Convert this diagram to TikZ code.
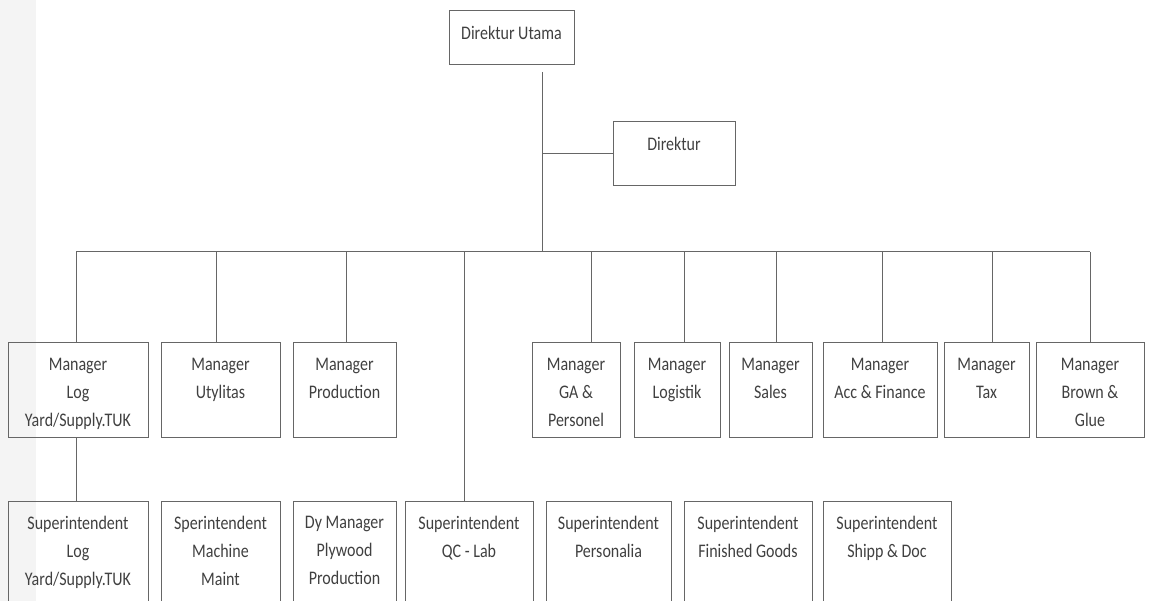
\documentclass[tikz,border=0pt]{standalone}
\usepackage{fontspec}
\setmainfont{Carlito}
\newfontfamily\chartfont[FakeStretch=0.8333]{Carlito}
\usetikzlibrary{calc,fit}

\definecolor{ink}{HTML}{404040}
\definecolor{rulegray}{HTML}{666666}
\definecolor{band}{HTML}{F4F4F4}

\tikzset{
  orgbox/.style={draw=rulegray, line width=1pt, rectangle, inner sep=0pt},
  orgtext/.style={anchor=north, align=center, inner sep=0pt, text=ink,
    font=\chartfont\fontsize{19.2}{28}\selectfont, execute at begin node=\vphantom{Hd}},
  link/.style={draw=rulegray, line width=1pt},
}

% one unit of the chart: name, top-left corner, bottom-right corner, caption
\newcommand\orgunit[6]{%
  \node[orgbox, fit={(#2,#3) (#4,#5)}] (#1) {};
  \node[orgtext] (#1-t) at ($(#1.north)+(0,15.5)$) {#6};
}

\begin{document}
\begin{tikzpicture}[x=1pt, y=-1pt]
  \useasboundingbox (0,0) rectangle (1149,601);
  \clip (0,0) rectangle (1149,601);
  \fill[band] (0,0) rectangle (36,601);

  % board
  \orgunit{du}{449}{11}{574}{65}{Direktur Utama}
  \orgunit{dir}{613}{122}{735}{186}{Direktur}

  % managers
  \orgunit{mLog}{8}{343}{148}{438}{Manager\\Log\\Yard/Supply.TUK}
  \orgunit{mUty}{161}{343}{280}{438}{Manager\\Utylitas}
  \orgunit{mProd}{293}{343}{396}{438}{Manager\\Production}
  \orgunit{mGA}{532}{343}{620}{438}{Manager\\GA \&\\Personel}
  \orgunit{mLogi}{634}{343}{720}{438}{Manager\\Logistik}
  \orgunit{mSales}{729}{343}{812}{438}{Manager\\Sales}
  \orgunit{mAcc}{823}{343}{937}{438}{Manager\\Acc \& Finance}
  \orgunit{mTax}{944}{343}{1029}{438}{Manager\\Tax}
  \orgunit{mBrown}{1036}{343}{1144}{438}{Manager\\Brown \&\\Glue}

  % superintendents
  \orgunit{sLog}{8}{501}{148}{630}{Superintendent\\Log\\Yard/Supply.TUK}
  \orgunit{sMach}{161}{501}{280}{630}{Sperintendent\\Machine\\Maint}
  \orgunit{sPly}{293}{501}{396}{630}{Dy Manager\\Plywood\\Production}
  \orgunit{sQC}{405}{501}{533}{630}{Superintendent\\QC - Lab}
  \orgunit{sPers}{546}{501}{671}{630}{Superintendent\\Personalia}
  \orgunit{sFin}{684}{501}{812}{630}{Superintendent\\Finished Goods}
  \orgunit{sShipp}{823}{501}{951}{630}{Superintendent\\Shipp \& Doc}

  % trunk from the top
  \coordinate (trunkTop) at (542,72);
  \coordinate (trunkBot) at (542,252);
  \draw[link] (trunkTop) -- (trunkBot);
  \draw[link] (trunkTop |- dir.west) -- (dir.west);

  % horizontal bus and its taps
  \coordinate (tLog) at (76,252);
  \coordinate (tUty) at (216,252);
  \coordinate (tProd) at (346,252);
  \coordinate (tQC) at (464,252);
  \coordinate (tGA) at (591,252);
  \coordinate (tLogi) at (684,252);
  \coordinate (tSales) at (776,252);
  \coordinate (tAcc) at (882,252);
  \coordinate (tTax) at (992,252);
  \coordinate (tBrown) at (1090,252);
  \draw[link] (tLog) -- (tBrown);

  \draw[link] (tLog) -- (tLog |- mLog.north);
  \draw[link] (tUty) -- (tUty |- mUty.north);
  \draw[link] (tProd) -- (tProd |- mProd.north);
  \draw[link] (tQC) -- (tQC |- sQC.north);
  \draw[link] (tGA) -- (tGA |- mGA.north);
  \draw[link] (tLogi) -- (tLogi |- mLogi.north);
  \draw[link] (tSales) -- (tSales |- mSales.north);
  \draw[link] (tAcc) -- (tAcc |- mAcc.north);
  \draw[link] (tTax) -- (tTax |- mTax.north);
  \draw[link] (tBrown) -- (tBrown |- mBrown.north);

  % log yard manager to its superintendent
  \draw[link] (tLog |- mLog.south) -- (tLog |- sLog.north);
\end{tikzpicture}
\end{document}
